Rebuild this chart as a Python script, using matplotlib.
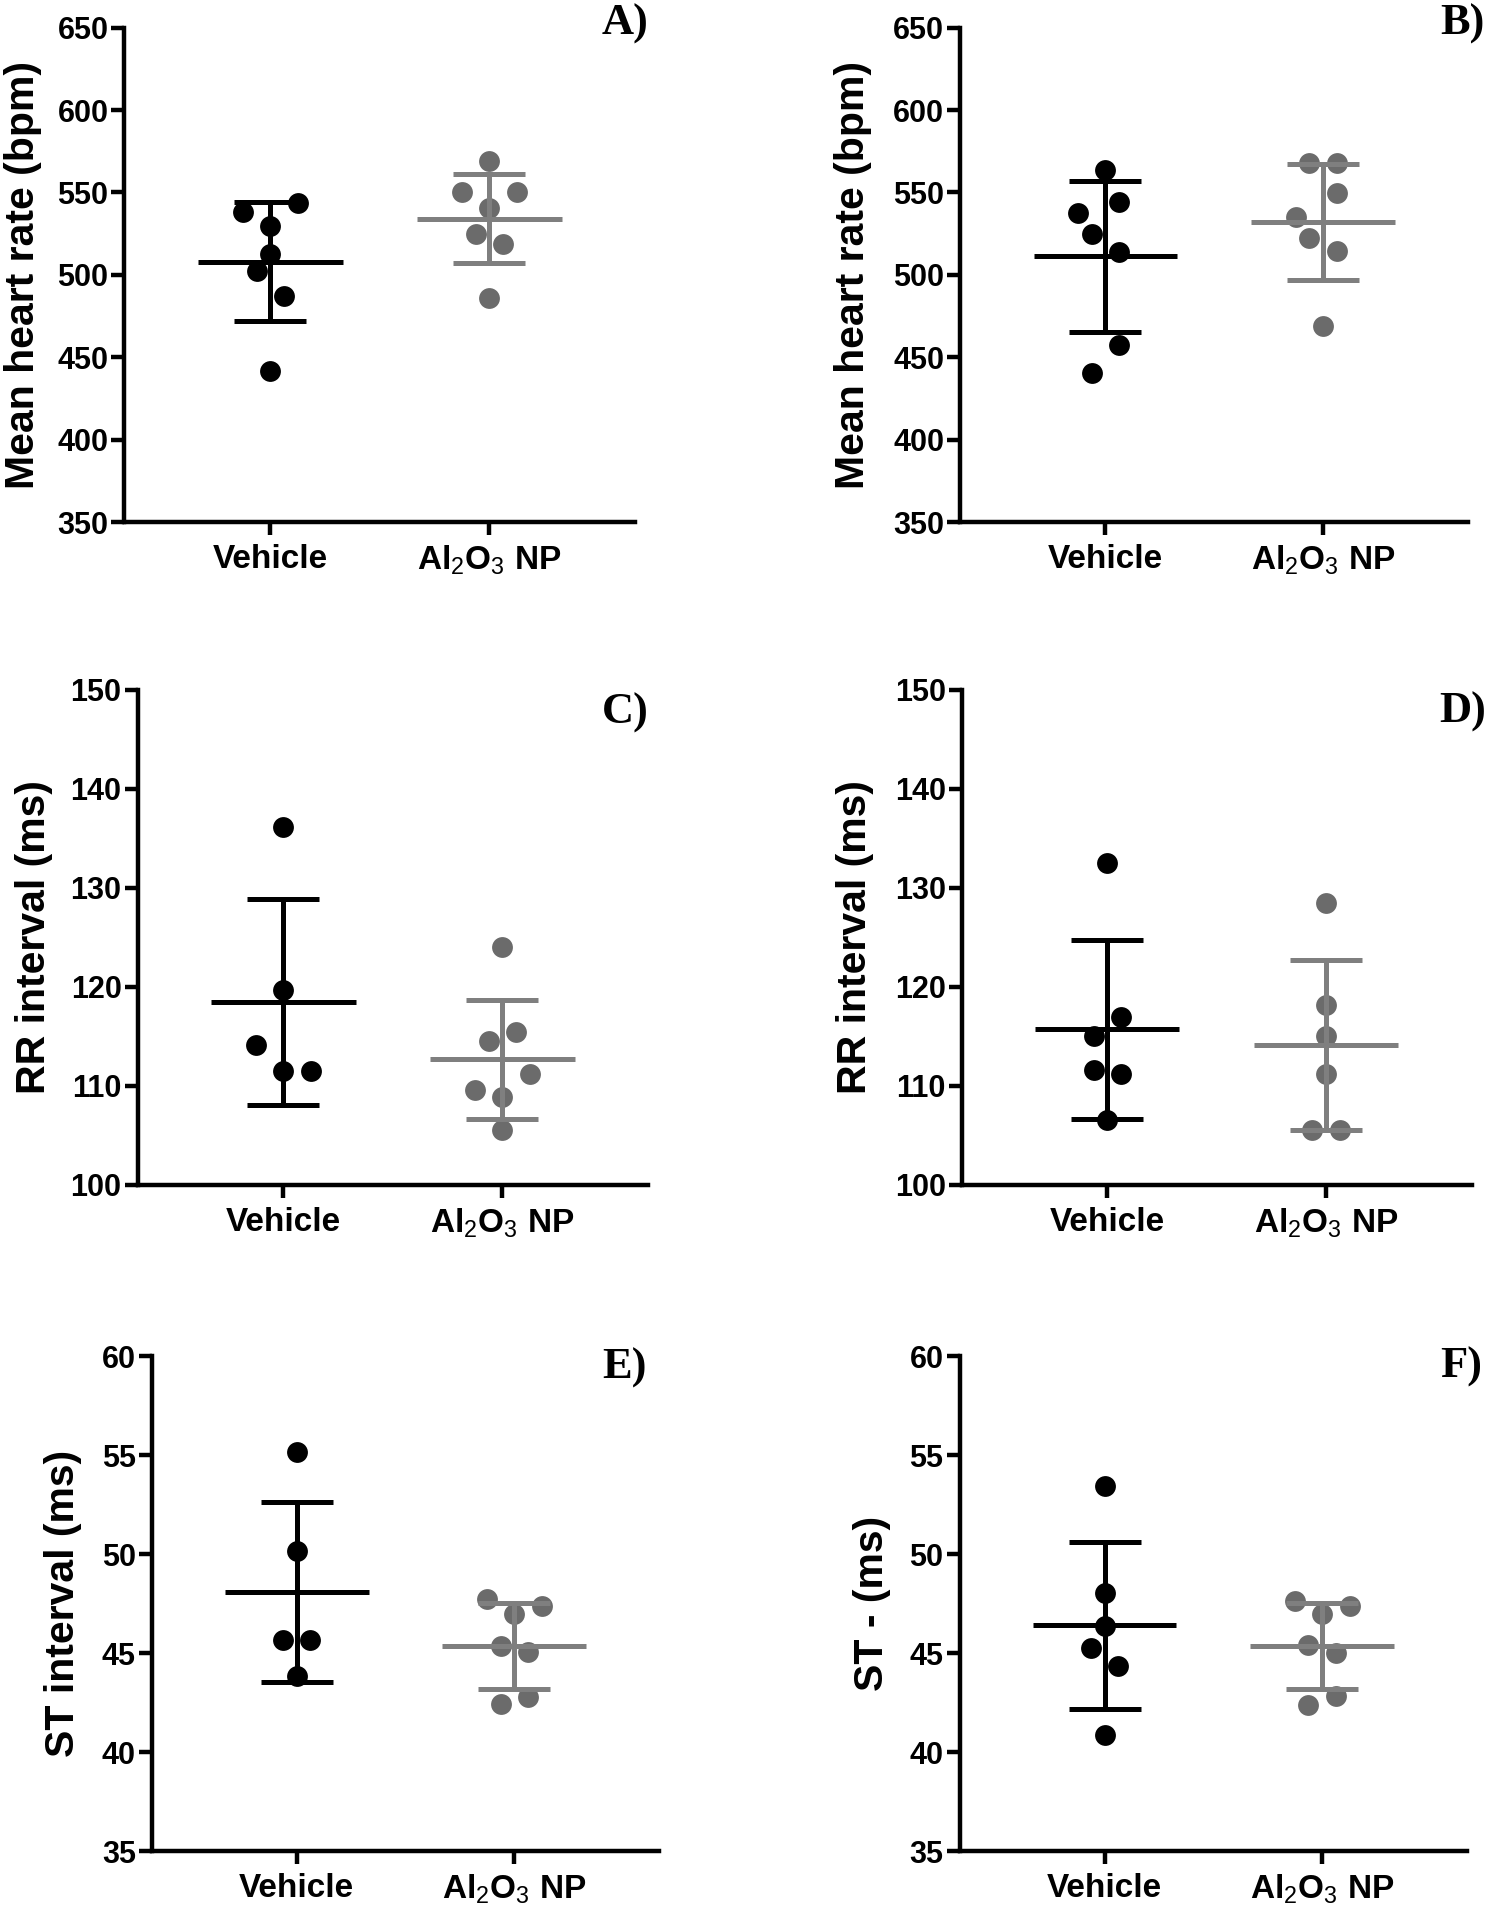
import numpy as np
import matplotlib
matplotlib.use('Agg')
import matplotlib.pyplot as plt
from matplotlib import font_manager

plt.rcParams['font.family'] = ['Liberation Sans', 'DejaVu Sans']
plt.rcParams['mathtext.fontset'] = 'custom'
plt.rcParams['mathtext.rm'] = 'Liberation Sans'
plt.rcParams['mathtext.default'] = 'rm'

# ---------------- data ----------------
categories = ['Vehicle', 'Al$_2$O$_3$ NP']

a_vehicle = [543.7, 537.9, 529.8, 512.4, 502.4, 487.4, 441.6]
a_al2o3 = [569.3, 550.0, 550.0, 540.3, 524.7, 518.9, 485.7]
a_mean = [508.0, 534.0]
a_sd = [36.0, 27.0]

b_vehicle = [563.5, 544.2, 537.5, 524.5, 513.6, 457.2, 440.5]
b_al2o3 = [568.1, 568.1, 549.5, 534.9, 522.4, 514.7, 468.8]
b_mean = [511.2, 532.1]
b_sd = [46.0, 35.3]

c_vehicle = [136.1, 119.7, 114.1, 111.5, 111.5]
c_al2o3 = [124.0, 115.4, 114.5, 111.2, 109.6, 108.9, 105.5]
c_mean = [118.5, 112.7]
c_sd = [10.4, 6.0]

d_vehicle = [132.5, 117.0, 115.0, 111.6, 111.2, 106.6]
d_al2o3 = [128.5, 118.2, 115.0, 111.2, 105.6, 105.6]
d_mean = [115.7, 114.1]
d_sd = [9.0, 8.6]

e_vehicle = [55.14, 50.13, 45.65, 45.65, 43.85]
e_al2o3 = [47.75, 47.35, 46.95, 45.35, 45.05, 42.79, 42.41]
e_mean = [48.09, 45.35]
e_sd = [4.55, 2.18]

f_vehicle = [53.45, 48.05, 46.35, 45.25, 44.35, 40.85]
f_al2o3 = [47.65, 47.35, 46.95, 45.39, 44.99, 42.85, 42.39]
f_mean = [46.39, 45.35]
f_sd = [4.23, 2.18]

y_labels = ['Mean heart rate (bpm)', 'Mean heart rate (bpm)',
            'RR interval (ms)', 'RR interval (ms)',
            'ST interval (ms)', 'ST - (ms)']
panel_letters = ['A)', 'B)', 'C)', 'D)', 'E)', 'F)']
y_ticks_hr = [350, 400, 450, 500, 550, 600, 650]
y_ticks_rr = [100, 110, 120, 130, 140, 150]
y_ticks_st = [35, 40, 45, 50, 55, 60]

# ---------------- layout (pixel geometry, separate from data) ----------------
W, H = 1493, 1920
# left, right, top, bottom of axes in pixels
boxes = [
    (124.5, 635.3, 27.6, 522.0),
    (960.3, 1468.0, 27.6, 522.0),
    (137.5, 648.3, 689.5, 1185.0),
    (961.6, 1471.5, 689.5, 1185.0),
    (151.8, 659.2, 1356.0, 1851.0),
    (959.5, 1467.2, 1356.0, 1851.0),
]
ylabel_x = [22.6, 853.0, 34.0, 854.5, 63.5, 872.0]
letter_pos = [(649.0, 35.0), (1485.0, 35.0), (649.0, 724.0),
              (1486.0, 723.0), (647.0, 1379.0), (1482.0, 1378.0)]
# beeswarm lanes (position layout, in lane steps)
lanes = [
    ([2, -2, 0, 0, -1, 1, 0], [0, -2, 2, 0, -1, 1, 0]),
    ([0, 1, -2, -1, 1, 1, -1], [-1, 1, 1, -2, -1, 1, 0]),
    ([0, 0, -2, 0, 2], [0, 1, -1, 2, -2, 0, 0]),
    ([0, 1, -1, -1, 1, 0], [0, 0, 0, 0, -1, 1]),
    ([0, 0, -1, 1, 0], [-2, 2, 0, -1, 1, 1, -1]),
    ([0, 0, 0, -1, 1, 0], [-2, 2, 0, -1, 1, 1, -1]),
]
lane_step = 0.063
ylims = [(350, 650), (350, 650), (100, 150), (100, 150), (35, 60), (35, 60)]
yticks = [y_ticks_hr, y_ticks_hr, y_ticks_rr, y_ticks_rr, y_ticks_st, y_ticks_st]

panels = [
    (a_vehicle, a_al2o3, a_mean, a_sd),
    (b_vehicle, b_al2o3, b_mean, b_sd),
    (c_vehicle, c_al2o3, c_mean, c_sd),
    (d_vehicle, d_al2o3, d_mean, d_sd),
    (e_vehicle, e_al2o3, e_mean, e_sd),
    (f_vehicle, f_al2o3, f_mean, f_sd),
]

point_colors = ['#000000', '#6b6b6b']
line_colors = ['#000000', '#7f7f7f']

# condensed font for the category labels if available
names = {f.name for f in font_manager.fontManager.ttflist}
if 'Liberation Sans Narrow' in names:
    xfam, xsize = ['Liberation Sans Narrow', 'Liberation Sans'], 27.5
else:
    xfam, xsize = ['Liberation Sans', 'DejaVu Sans'], 24.0

fig = plt.figure(figsize=(W / 100, H / 100), dpi=100)

for i, (veh, al, mean, sd) in enumerate(panels):
    l, r, t, b = boxes[i]
    ax = fig.add_axes([l / W, 1 - b / H, (r - l) / W, (b - t) / H])
    groups = [veh, al]
    for g in range(2):
        vals = np.asarray(groups[g])
        xs = g + np.asarray(lanes[i][g]) * lane_step
        ax.plot(xs, vals, 'o', ms=15, color=point_colors[g], mec='none',
                zorder=2, clip_on=False)
        ax.hlines(mean[g], g - 0.33, g + 0.33, colors=line_colors[g],
                  lw=3.6, zorder=3)
        ax.errorbar([g], [mean[g]], yerr=[sd[g]], fmt='none',
                    ecolor=line_colors[g], elinewidth=3.6, capsize=26,
                    capthick=3.6, zorder=3)
    ax.set_xlim(-0.667, 1.667)
    ax.set_ylim(*ylims[i])
    ax.set_yticks(yticks[i])
    ax.set_xticks([0, 1])
    ax.set_xticklabels(categories)
    for s in ['top', 'right']:
        ax.spines[s].set_visible(False)
    for s in ['left', 'bottom']:
        ax.spines[s].set_linewidth(3.2)
    ax.tick_params(axis='both', length=9.5, width=3.2)
    ax.tick_params(axis='y', pad=2, labelsize=22)
    ax.tick_params(axis='x', pad=6)
    for lab in ax.get_yticklabels():
        lab.set_fontweight('bold')
    for lab in ax.get_xticklabels():
        lab.set_fontweight('bold')
        lab.set_family(xfam)
        lab.set_fontsize(xsize)
    cy = 1 - ((t + b) / 2) / H
    fig.text(ylabel_x[i] / W, cy, y_labels[i], rotation=90, ha='center',
             va='center', fontsize=29.5, fontweight='bold')
    px, py = letter_pos[i]
    fig.text(px / W, 1 - py / H, panel_letters[i], ha='right', va='baseline',
             fontsize=32, fontweight='bold', family='Liberation Serif')

fig.savefig('out.png', dpi=100)
